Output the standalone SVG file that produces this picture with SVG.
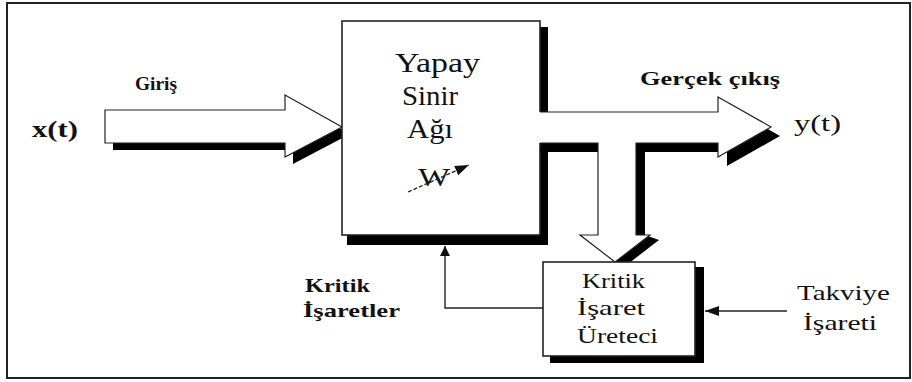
<svg xmlns="http://www.w3.org/2000/svg" width="912" height="382" viewBox="0 0 912 382">
<style>
text{font-family:"Liberation Serif","Times New Roman","DejaVu Serif",serif;fill:#111}
.b{font-weight:bold}
.sh{fill:#000;stroke:none}
.wf{fill:#fff;stroke:none}
.ol{fill:none;stroke:#222;stroke-width:1.2;stroke-linejoin:miter}
.box{fill:#fff;stroke:#222;stroke-width:1.6}
.ln{fill:none;stroke:#222;stroke-width:1.4}
</style>
<defs>
<marker id="ah" viewBox="0 0 10 10" refX="10" refY="5" markerWidth="10" markerHeight="10" markerUnits="userSpaceOnUse" orient="auto">
<path d="M0,0 L10,5 L0,10 z" fill="#111"/>
</marker>
<marker id="ah2" viewBox="0 0 14 10" refX="14" refY="5" markerWidth="14" markerHeight="10" markerUnits="userSpaceOnUse" orient="auto">
<path d="M0,0 L14,5 L0,10 z" fill="#111"/>
</marker>
</defs>
<rect x="0" y="0" width="912" height="382" fill="#fff"/>
<rect x="7" y="3" width="903" height="375" fill="none" stroke="#222" stroke-width="2"/>

<g id="input-arrow">
<polygon class="sh" points="113,117 293,117 293,102 350,134 293,164 293,150 113,150"/>
<polygon class="wf" points="105,110 285,110 285,95 342,127 285,157 285,143 105,143"/>
<polygon class="ol" points="105,110 285,110 285,95 342,127 285,157 285,143 105,143"/>
</g>

<g id="ysa">
<rect class="sh" x="347" y="27" width="201" height="218"/>
<rect class="box" x="342" y="21" width="198" height="214"/>
<text x="395" y="72" font-size="28" textLength="85" lengthAdjust="spacingAndGlyphs" font-family="Liberation Serif, DejaVu Serif, serif">Yapay</text>
<text x="402" y="105" font-size="28" textLength="56" lengthAdjust="spacingAndGlyphs" font-family="Liberation Serif, DejaVu Serif, serif">Sinir</text>
<text x="407" y="138" font-size="28" textLength="46" lengthAdjust="spacingAndGlyphs" font-family="Liberation Serif, DejaVu Serif, serif">Ağı</text>
<text x="418" y="186" font-size="25" textLength="32" lengthAdjust="spacingAndGlyphs" font-family="Liberation Serif, DejaVu Serif, serif">W</text>
<line x1="408" y1="192" x2="469" y2="165" stroke="#222" stroke-width="1.3" stroke-dasharray="4,2" marker-end="url(#ah2)"/>
</g>

<g id="output-arrow">
<polygon class="sh" points="540,152 549,121 727,121 727,106 780,136 727,166 727,152 645,152 645,235 659,240 624,267 600,250 607,152"/>
<polygon class="wf" points="538,112 718,112 718,97 771,127 718,157 718,143 636,143 636,235 650,235 615,262 580,235 598,235 598,143 538,143"/>
<polyline class="ol" points="540,112 718,112 718,97 771,127 718,157 718,143 636,143 636,235 650,235 615,262 580,235 598,235 598,143 540,143"/>
</g>

<g id="kritik">
<rect class="sh" x="550" y="267" width="154" height="96"/>
<rect class="box" x="543" y="262" width="152" height="94"/>
<text x="582" y="288" font-size="21" textLength="63" lengthAdjust="spacingAndGlyphs" font-family="Liberation Serif, DejaVu Serif, serif">Kritik</text>
<text x="577" y="315" font-size="21" textLength="68" lengthAdjust="spacingAndGlyphs" font-family="Liberation Serif, DejaVu Serif, serif">İşaret</text>
<text x="577" y="343" font-size="21" textLength="81" lengthAdjust="spacingAndGlyphs" font-family="Liberation Serif, DejaVu Serif, serif">Üreteci</text>
</g>

<g id="connectors">
<polyline class="ln" points="543,308 445,308 445,246" marker-end="url(#ah)"/>
<line class="ln" x1="787" y1="311" x2="705" y2="311" marker-end="url(#ah2)"/>
</g>

<g id="labels" font-family="Liberation Serif, DejaVu Serif, serif">
<text class="b" x="32" y="137" font-size="23" textLength="46" lengthAdjust="spacingAndGlyphs" font-family="Liberation Serif, DejaVu Serif, serif">x(t)</text>
<text class="b" x="135" y="90" font-size="19" textLength="42" lengthAdjust="spacingAndGlyphs" font-family="Liberation Serif, DejaVu Serif, serif">Giriş</text>
<text class="b" x="640" y="85" font-size="19" textLength="140" lengthAdjust="spacingAndGlyphs" font-family="Liberation Serif, DejaVu Serif, serif">Gerçek çıkış</text>
<text x="794" y="131" font-size="23" textLength="47" lengthAdjust="spacingAndGlyphs" font-family="Liberation Serif, DejaVu Serif, serif">y(t)</text>
<text class="b" x="305" y="292" font-size="19" textLength="65" lengthAdjust="spacingAndGlyphs" font-family="Liberation Serif, DejaVu Serif, serif">Kritik</text>
<text class="b" x="303" y="317" font-size="19" textLength="97" lengthAdjust="spacingAndGlyphs" font-family="Liberation Serif, DejaVu Serif, serif">İşaretler</text>
<text x="797" y="300" font-size="21" textLength="93" lengthAdjust="spacingAndGlyphs" font-family="Liberation Serif, DejaVu Serif, serif">Takviye</text>
<text x="803" y="330" font-size="21" textLength="74" lengthAdjust="spacingAndGlyphs" font-family="Liberation Serif, DejaVu Serif, serif">İşareti</text>
</g>
</svg>
